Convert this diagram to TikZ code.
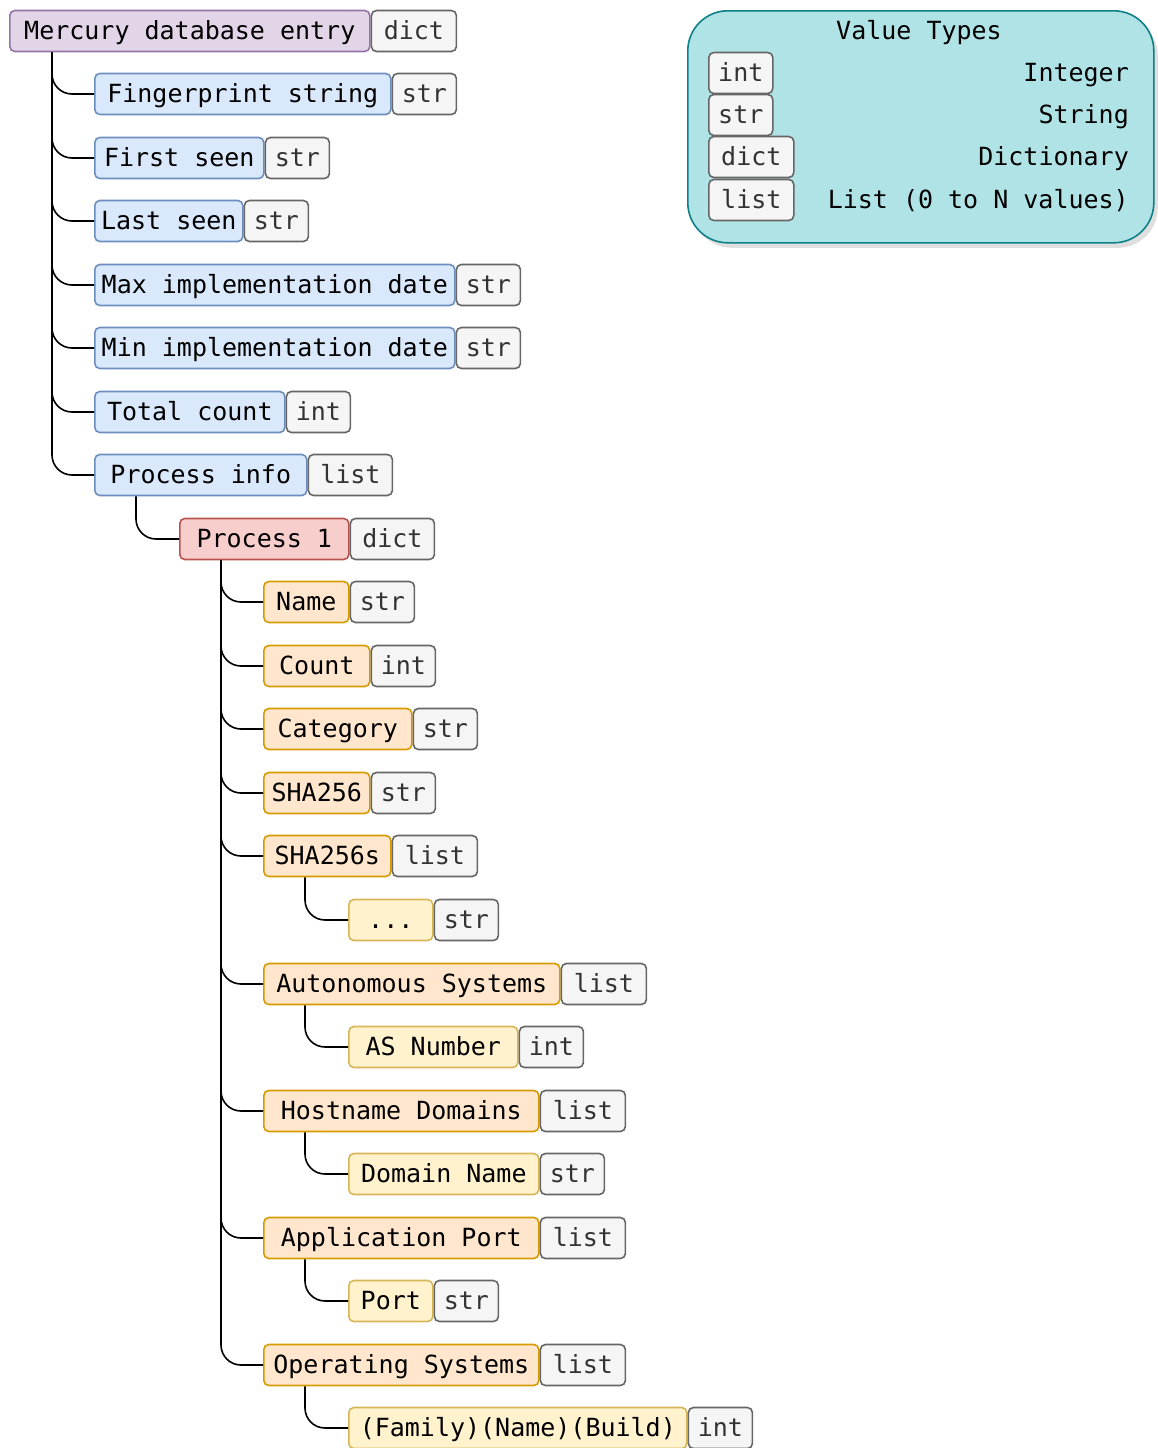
\documentclass[tikz,border=0pt]{standalone}
\usepackage{fontspec}
\setmonofont{DejaVu Sans Mono}
\usetikzlibrary{shadows}

\definecolor{rootfill}{HTML}{E1D5E7}\definecolor{rootline}{HTML}{9673A6}
\definecolor{bluefill}{HTML}{DAE8FC}\definecolor{blueline}{HTML}{6C8EBF}
\definecolor{redfill}{HTML}{F8CECC}\definecolor{redline}{HTML}{B85450}
\definecolor{orfill}{HTML}{FFE6CC}\definecolor{orline}{HTML}{D79B00}
\definecolor{yelfill}{HTML}{FFF2CC}\definecolor{yelline}{HTML}{D6B656}
\definecolor{typefill}{HTML}{F5F5F5}\definecolor{typeline}{HTML}{666666}
\definecolor{typetext}{HTML}{333333}
\definecolor{legfill}{HTML}{B0E3E6}\definecolor{legline}{HTML}{0E8088}

\tikzset{
  monotext/.style={font=\ttfamily\fontsize{25}{30}\selectfont,
    text height=20pt, text depth=4pt},
  box/.style={monotext, rounded corners=5pt, line width=1.6pt, inner sep=0pt,
    minimum height=41pt, anchor=west},
  rootbox/.style={box, fill=rootfill, draw=rootline},
  bluebox/.style={box, fill=bluefill, draw=blueline},
  redbox/.style={box, fill=redfill, draw=redline},
  orbox/.style={box, fill=orfill, draw=orline},
  yelbox/.style={box, fill=yelfill, draw=yelline},
  typebox/.style={box, fill=typefill, draw=typeline, text=typetext},
  plain/.style={monotext, inner sep=0pt},
  link/.style={draw=black, line width=1.6pt, rounded corners=20pt},
}

% \entry{name}{x}{y}{label width}{style}{label}{type width}{type}
\newcommand{\entry}[8]{%
  \node[#5, minimum width=#4pt] (#1) at (#2,#3) {#6};
  \node[typebox, minimum width=#7pt] (#1t) at (#1.east) {#8};
}
% \branch{parent}{trunk offset}{child}
\newcommand{\branch}[3]{%
  \draw[link] ([xshift=#2pt]#1.south west) |- (#3.west);
}

\begin{document}
\begin{tikzpicture}[x=1pt, y=-1pt]
\useasboundingbox (0,0) rectangle (1157,1448);

% tree of fields
\entry{root}{9}{31}{360}{rootbox}{Mercury database entry}{85}{dict}
\entry{fp}{94}{94}{296}{bluebox}{Fingerprint string}{64}{str}
\entry{first}{94}{158}{169}{bluebox}{First seen}{64}{str}
\entry{last}{94}{221}{148}{bluebox}{Last seen}{64}{str}
\entry{maxd}{94}{285}{360}{bluebox}{Max implementation date}{64}{str}
\entry{mind}{94}{348}{360}{bluebox}{Min implementation date}{64}{str}
\entry{total}{94}{412}{190}{bluebox}{Total count}{64}{int}
\entry{pinfo}{94}{475}{212}{bluebox}{Process info}{84}{list}
\entry{proc}{179}{539}{169}{redbox}{Process 1}{84}{dict}
\entry{name}{263}{602}{85}{orbox}{Name}{64}{str}
\entry{count}{263}{666}{106}{orbox}{Count}{64}{int}
\entry{cat}{263}{729}{148}{orbox}{Category}{64}{str}
\entry{sha}{263}{793}{106}{orbox}{SHA256}{64}{str}
\entry{shas}{263}{856}{127}{orbox}{SHA256s}{85}{list}
\entry{shaitem}{348}{920}{84}{yelbox}{...}{64}{str}
\entry{asys}{263}{984}{296}{orbox}{Autonomous Systems}{85}{list}
\entry{asnum}{348}{1047}{169}{yelbox}{AS Number}{64}{int}
\entry{hosts}{263}{1111}{275}{orbox}{Hostname Domains}{85}{list}
\entry{dom}{348}{1174}{190}{yelbox}{Domain Name}{64}{str}
\entry{aport}{263}{1238}{275}{orbox}{Application Port}{85}{list}
\entry{port}{348}{1301}{84}{yelbox}{Port}{64}{str}
\entry{os}{263}{1365}{275}{orbox}{Operating Systems}{85}{list}
\entry{osval}{348}{1428}{338}{yelbox}{(Family)(Name)(Build)}{64}{int}

% connectors
\foreach \c in {fp,first,last,maxd,mind,total,pinfo} {\branch{root}{43}{\c}}
\branch{pinfo}{42}{proc}
\foreach \c in {name,count,cat,sha,shas,asys,hosts,aport,os} {\branch{proc}{42}{\c}}
\branch{shas}{42}{shaitem}
\branch{asys}{42}{asnum}
\branch{hosts}{42}{dom}
\branch{aport}{42}{port}
\branch{os}{42}{osval}

% legend
\node[draw=legline, fill=legfill, line width=1.6pt, rounded corners=40pt,
      minimum width=466pt, minimum height=232pt, inner sep=0pt, anchor=north west,
      drop shadow={shadow xshift=4pt, shadow yshift=-5pt, fill=black!25}]
  (legend) at (687,10) {};
\node[plain] (legtitle) at (919,31) {Value Types};
\node[typebox, minimum width=64pt] (lint) at (708,73) {int};
\node[typebox, minimum width=64pt] (lstr) at (708,115) {str};
\node[typebox, minimum width=85pt] (ldict) at (708,157) {dict};
\node[typebox, minimum width=85pt] (llist) at (708,200) {list};
\node[plain, anchor=east] (dint) at (1129,73) {Integer};
\node[plain, anchor=east] (dstr) at (1129,115) {String};
\node[plain, anchor=east] (ddict) at (1129,157) {Dictionary};
\node[plain, anchor=east] (dlist) at (1129,200) {List (0 to N values)};
\end{tikzpicture}
\end{document}
